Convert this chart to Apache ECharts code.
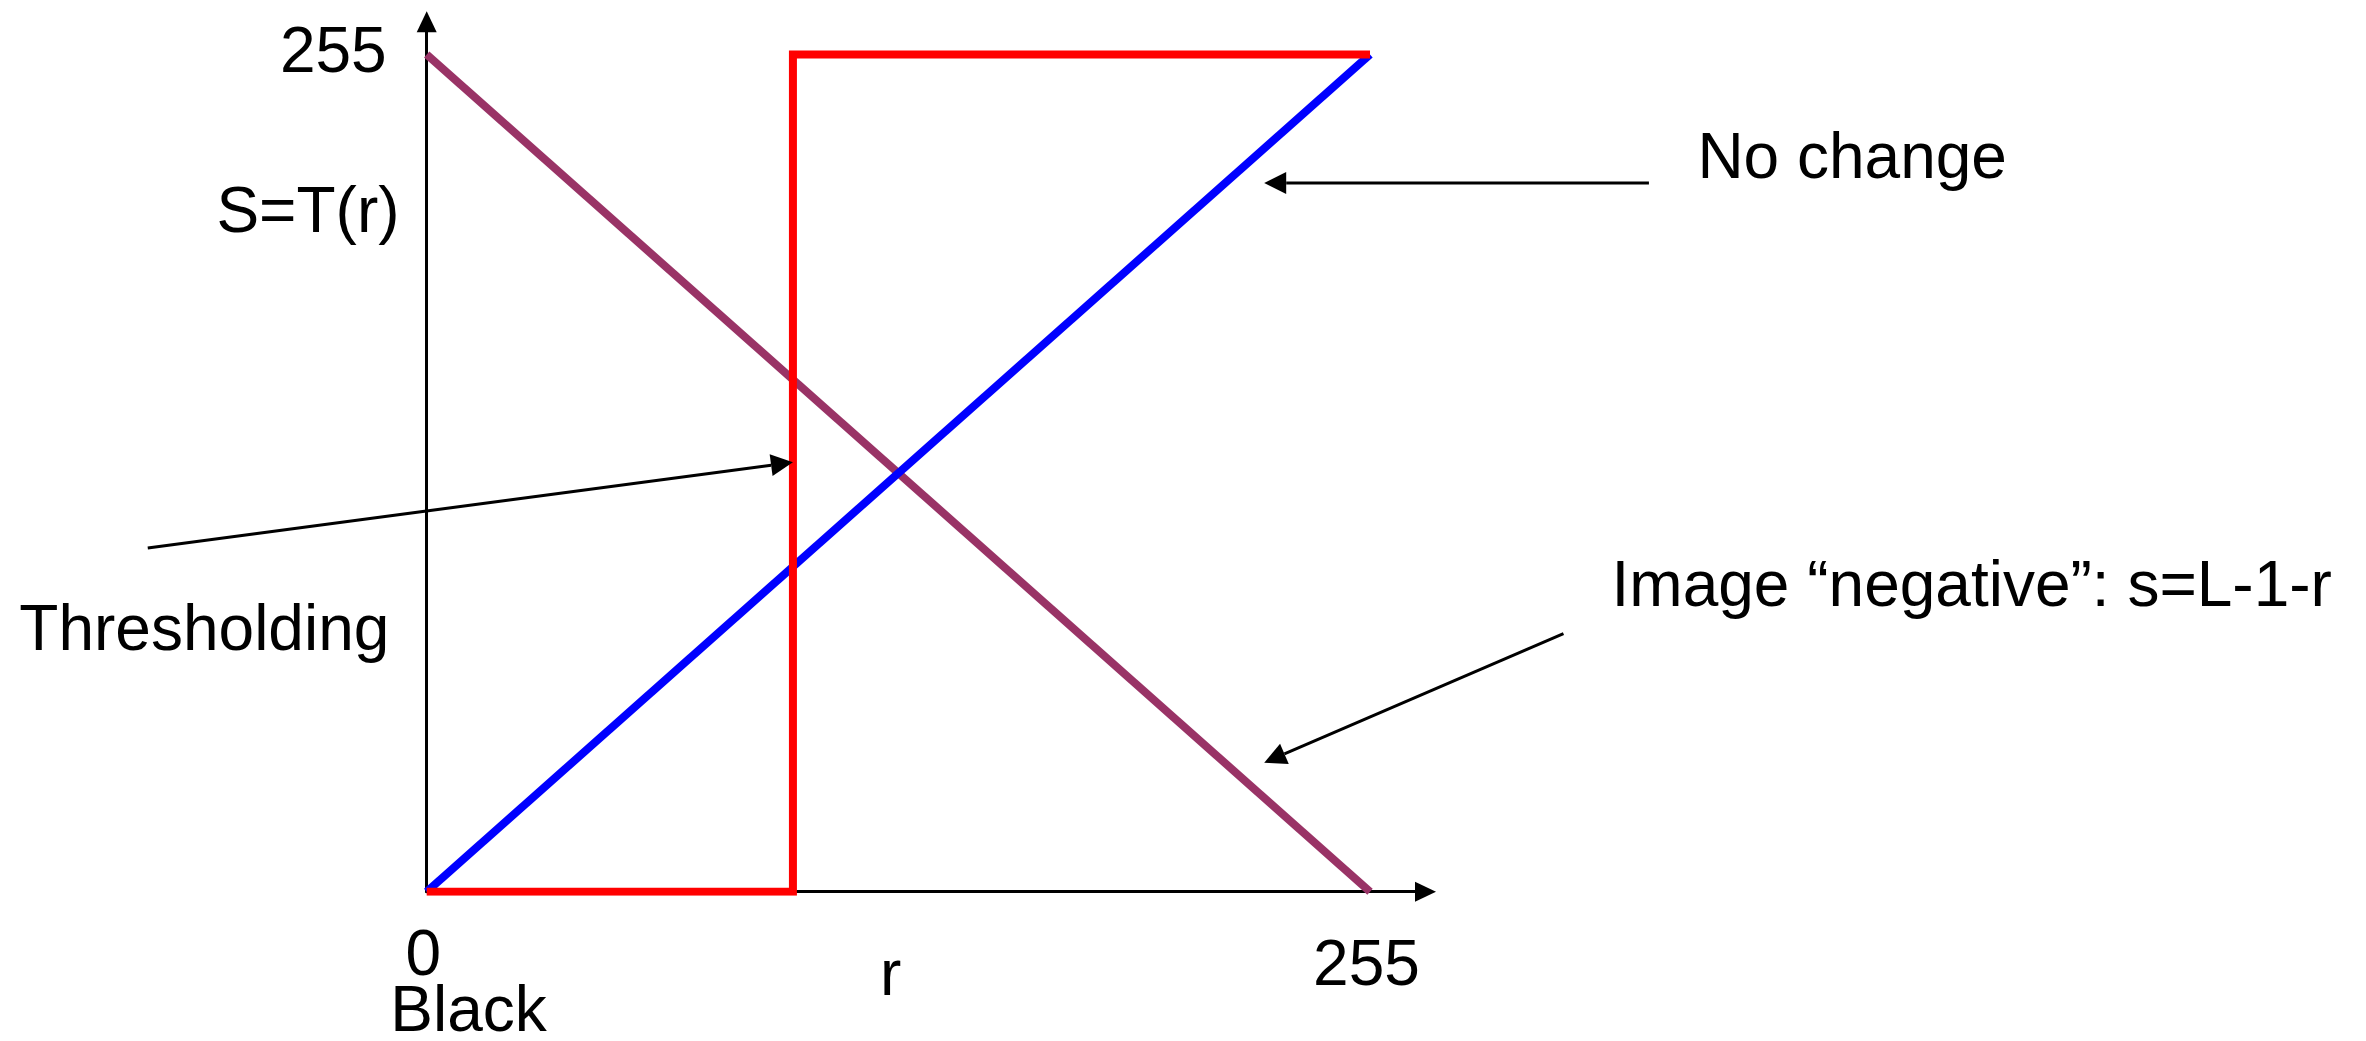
<!DOCTYPE html>
<html>
<head>
<meta charset="utf-8">
<title>Intensity transformations</title>
<script src="https://cdn.jsdelivr.net/npm/echarts@6/dist/echarts.min.js"></script>
<style>
  html, body { margin: 0; padding: 0; background: #ffffff; }
  #chart { width: 2366px; height: 1041px; }
</style>
</head>
<body>
<div id="chart"></div>
<script>
// grey levels (input r and output s)
const rRange = [0, 255];
const noChange = [0, 255];      // s = r
const negative = [255, 0];      // s = L-1-r
const threshold = 99;           // r where the step happens
const stepR = [0, threshold, threshold, 255];
const stepS = [0, 0, 255, 255];

// axis tick labels
const xTicks = [0, 255];
const yTicks = [255];

// notes, anchored in data units (r, s)
const noteTexts = ['S=T(r)', 'Thresholding', 'No change', 'Image \u201cnegative\u201d: s=L-1-r', 'Black', 'r'];
const noteAt = [[-32.1, 206.4], [-60.1, 79.1], [343.5, 222.9], [320.3, 92.4], [11.3, -37.0], [125.4, -26.0]];
const noteAlign = ['center', 'center', 'left', 'left', 'center', 'center'];

// arrows: tail -> head, in data units
const arrowFrom = [[-75.4, 104.7], [330.4, 215.9], [307.3, 78.6]];
const arrowTo = [[threshold, 130.8], [226.4, 215.9], [226.4, 39.3]];

const FONT = "'Liberation Sans', Arial, sans-serif";

const chart = echarts.init(document.getElementById('chart'), null, { renderer: 'canvas' });

const pairs = (xs, ys) => xs.map((x, i) => [x, ys[i]]);

const option = {
  backgroundColor: '#ffffff',
  animation: false,
  grid: {
    left: 426.7,
    top: 21.7,
    width: 998.8,
    height: 870,
    containLabel: false,
    outerBoundsMode: 'none'
  },
  xAxis: {
    type: 'value',
    min: 0,
    max: 270,
    splitLine: { show: false },
    axisTick: { show: false },
    axisLine: {
      lineStyle: { color: '#000', width: 3 },
      symbol: ['none', 'triangle'],
      symbolSize: [20, 21]
    },
    axisLabel: {
      customValues: xTicks,
      margin: 34,
      padding: [0, 7, 0, 0],
      formatter: v => (v === 0 ? '{a|' + v + '}' : '{b|' + v + '}'),
      rich: {
        a: { fontSize: 64, fontFamily: FONT, color: '#000', lineHeight: 64 },
        b: { fontSize: 64, fontFamily: FONT, color: '#000', lineHeight: 84 }
      }
    }
  },
  yAxis: {
    type: 'value',
    min: 0,
    max: 265,
    splitLine: { show: false },
    axisTick: { show: false },
    axisLine: {
      lineStyle: { color: '#000', width: 3 },
      symbol: ['none', 'triangle'],
      symbolSize: [20, 21]
    },
    axisLabel: {
      customValues: yTicks,
      margin: 40,
      padding: [0, 0, 20, 0],
      fontSize: 64,
      fontFamily: FONT,
      color: '#000'
    }
  },
  series: [
    {
      name: 'negative',
      type: 'line',
      showSymbol: false,
      data: pairs(rRange, negative),
      lineStyle: { color: '#993366', width: 8 }
    },
    {
      name: 'no change',
      type: 'line',
      showSymbol: false,
      data: pairs(rRange, noChange),
      lineStyle: { color: '#0000ff', width: 8 }
    },
    {
      name: 'thresholding',
      type: 'line',
      showSymbol: false,
      data: pairs(stepR, stepS),
      lineStyle: { color: '#ff0000', width: 8, join: 'miter' }
    }
  ]
};

chart.setOption(option);

// notes and arrows go on top, placed through the grid's own scales
const toPx = p => chart.convertToPixel({ gridIndex: 0 }, p);
const graphics = [];

noteTexts.forEach((t, i) => {
  const p = toPx(noteAt[i]);
  graphics.push({
    type: 'text',
    x: p[0],
    y: p[1],
    z: 100,
    style: {
      text: t,
      fontSize: 64,
      fontFamily: FONT,
      fill: '#000',
      align: noteAlign[i],
      verticalAlign: 'middle'
    }
  });
});

arrowFrom.forEach((from, i) => {
  const a = toPx(from);
  const b = toPx(arrowTo[i]);
  const dx = b[0] - a[0];
  const dy = b[1] - a[1];
  const len = Math.hypot(dx, dy);
  const ux = dx / len, uy = dy / len;
  const headL = 22, headW = 11;
  const bx = b[0] - ux * headL, by = b[1] - uy * headL;
  graphics.push({
    type: 'line',
    z: 100,
    shape: { x1: a[0], y1: a[1], x2: bx, y2: by },
    style: { stroke: '#000', lineWidth: 3 }
  });
  graphics.push({
    type: 'polygon',
    z: 100,
    shape: {
      points: [
        [b[0], b[1]],
        [bx - uy * headW, by + ux * headW],
        [bx + uy * headW, by - ux * headW]
      ]
    },
    style: { fill: '#000' }
  });
});

chart.setOption({ graphic: graphics });
</script>
</body>
</html>
